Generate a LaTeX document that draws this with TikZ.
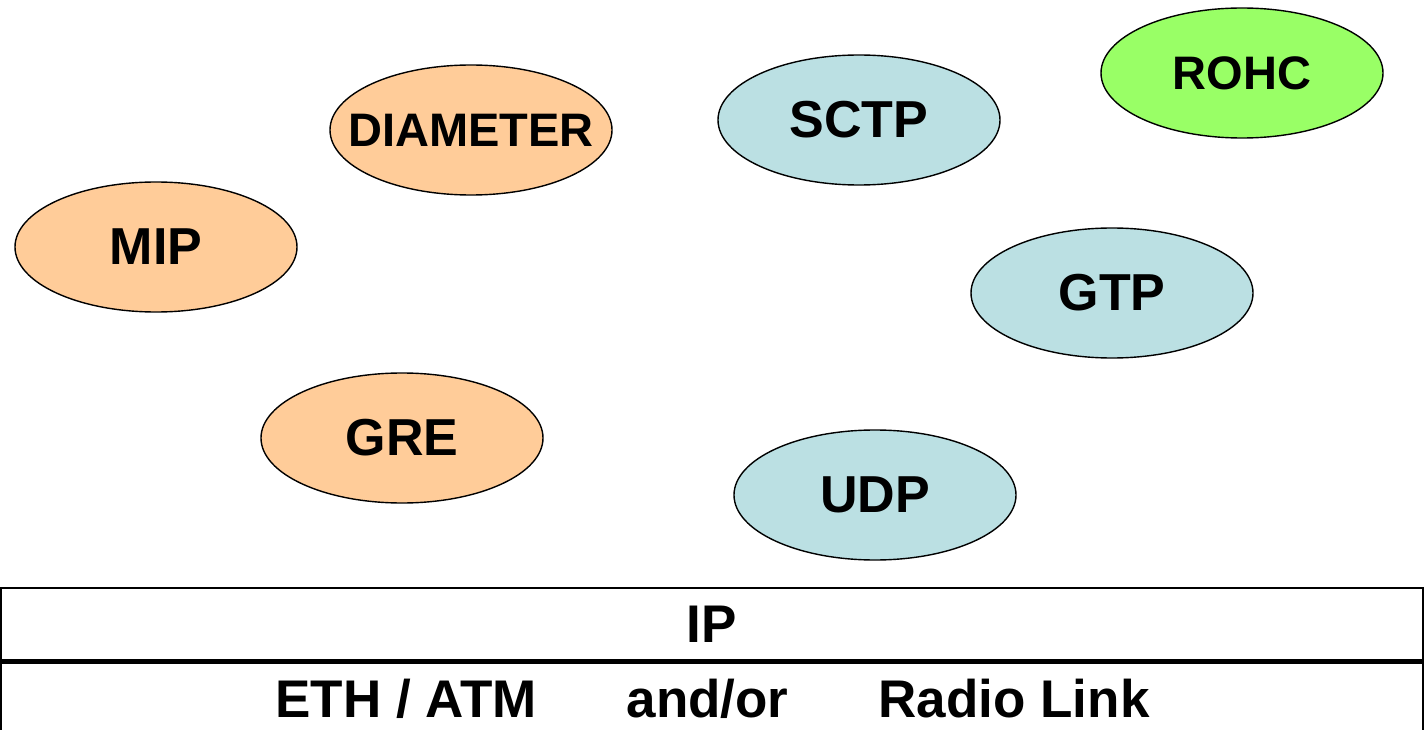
\documentclass[tikz,border=0pt]{standalone}
\usepackage{fontspec}
\setmainfont{Liberation Sans}
\usetikzlibrary{shapes.geometric}
\definecolor{orangefill}{HTML}{FFCC99}
\definecolor{bluefill}{HTML}{BBE0E3}
\definecolor{greenfill}{HTML}{99FF66}
\tikzset{
  proto/.style={ellipse, draw=black, line width=1.4pt, minimum width=282pt, minimum height=130pt, inner sep=0pt,
    font=\fontsize{52}{60}\selectfont\bfseries},
  layerbox/.style={rectangle, draw=black, line width=2.6pt, minimum width=1422pt, inner sep=0pt,
    font=\fontsize{53}{60}\selectfont\bfseries}
}
\begin{document}
\begin{tikzpicture}[x=1pt,y=-1pt]
\useasboundingbox (0,0) rectangle (1425,730);
\node[proto, fill=greenfill, font=\fontsize{47}{56}\selectfont\bfseries] (rohc) at (1242,73) {ROHC};
\node[proto, fill=orangefill, font=\fontsize{47}{56}\selectfont\bfseries] (diameter) at (471,130) {\makebox[0pt][c]{DIAMETER}};
\node[proto, fill=bluefill] (sctp) at (859,120) {SCTP};
\node[proto, fill=orangefill] (mip) at (156,247) {MIP};
\node[proto, fill=bluefill] (gtp) at (1112,293) {GTP};
\node[proto, fill=orangefill] (gre) at (402,438) {GRE};
\node[proto, fill=bluefill] (udp) at (875,495) {UDP};
\node[layerbox, minimum height=72pt] (ip) at (712,624) {IP};
\node[layerbox, minimum height=84pt, anchor=north] (link) at (ip.south) {};
\node[font=\fontsize{53}{60}\selectfont\bfseries, anchor=base] (linktext) at (712.5,717) {ETH / ATM\hspace{90pt}and/or\hspace{90pt}Radio Link};
\end{tikzpicture}
\end{document}
